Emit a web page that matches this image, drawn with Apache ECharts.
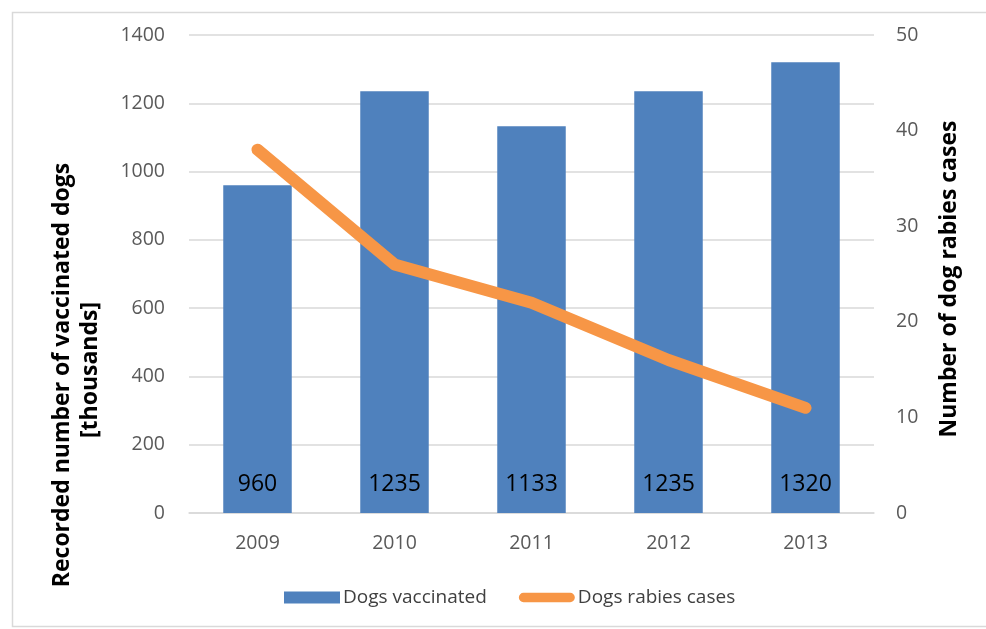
<!DOCTYPE html>
<html><head><meta charset="utf-8">
<script src="https://cdn.jsdelivr.net/npm/echarts@6/dist/echarts.min.js"></script>
<style>html,body{margin:0;padding:0;background:#fff}#c{width:986px;height:629px}</style>
</head><body><div id="c"></div>
<script>
const years = ['2009','2010','2011','2012','2013'];
const vaccinated = [960, 1235, 1133, 1235, 1320];
const rabiesCases = [38, 26, 22, 16, 11];
const leftTicks = [0, 1400, 200];
const rightTicks = [0, 50, 10];
const FONT = '"Open Sans", "Liberation Sans", sans-serif';
const chart = echarts.init(document.getElementById('c'));
chart.setOption({
  animation: false,
  backgroundColor: '#fff',
  textStyle: {fontFamily: FONT},
  grid: {left: 189, right: 112, top: 35, bottom: 116},
  legend: {
    top: 583, left: 279, itemWidth: 56, itemHeight: 12, itemGap: 32,
    textStyle: {fontFamily: FONT, fontSize: 19, color: '#404040', padding: [0, 0, 0, -2]},
    data: [
      {name: 'Dogs vaccinated', icon: 'rect'},
      {name: 'Dogs rabies cases', icon: 'path://M5,0 H55 A5,5 0 0 1 55,10 H5 A5,5 0 0 1 5,0 Z'}
    ]
  },
  xAxis: {
    type: 'category', data: years,
    axisLine: {lineStyle: {color: '#d9d9d9', width: 1.5}}, axisTick: {show: false},
    axisLabel: {fontFamily: FONT, fontSize: 19.5, color: '#595959', margin: 20}
  },
  yAxis: [{
    type: 'value', min: leftTicks[0], max: leftTicks[1], interval: leftTicks[2],
    axisLine: {show: false}, axisTick: {show: false},
    axisLabel: {fontFamily: FONT, fontSize: 19.5, color: '#595959', margin: 24, formatter: v => String(v)},
    splitLine: {lineStyle: {color: '#d9d9d9', width: 1.5}}
  }, {
    type: 'value', min: rightTicks[0], max: rightTicks[1], interval: rightTicks[2],
    axisLine: {show: false}, axisTick: {show: false},
    axisLabel: {fontFamily: FONT, fontSize: 19.5, color: '#595959', margin: 22, formatter: v => String(v)},
    splitLine: {show: false}
  }],
  series: [{
    name: 'Dogs vaccinated', type: 'bar', data: vaccinated, barWidth: '50%',
    itemStyle: {color: '#4F81BD'},
    label: {show: true, position: 'insideBottom', distance: 17, fontFamily: FONT, fontSize: 23, color: '#000'}
  }, {
    name: 'Dogs rabies cases', type: 'line', yAxisIndex: 1, data: rabiesCases,
    symbol: 'none', lineStyle: {color: '#F79646', width: 12, cap: 'round', join: 'round'},
    itemStyle: {color: '#F79646'}
  }],
  graphic: [
    {type: 'rect', left: 10, top: 10, shape: {width: 990, height: 614}, style: {fill: 'none', stroke: '#d9d9d9', lineWidth: 1.5}, silent: true},
    {type: 'text', x: 62, y: 375, rotation: Math.PI/2, style: {text: 'Recorded number of vaccinated dogs', font: 'bold 23px ' + FONT, fill: '#000', align: 'center', verticalAlign: 'middle'}},
    {type: 'text', x: 90, y: 370, rotation: Math.PI/2, style: {text: '[thousands]', font: 'bold 23px ' + FONT, fill: '#000', align: 'center', verticalAlign: 'middle'}},
    {type: 'text', x: 949, y: 279, rotation: Math.PI/2, style: {text: 'Number of dog rabies cases', font: 'bold 23px ' + FONT, fill: '#000', align: 'center', verticalAlign: 'middle'}}
  ]
});
</script></body></html>
